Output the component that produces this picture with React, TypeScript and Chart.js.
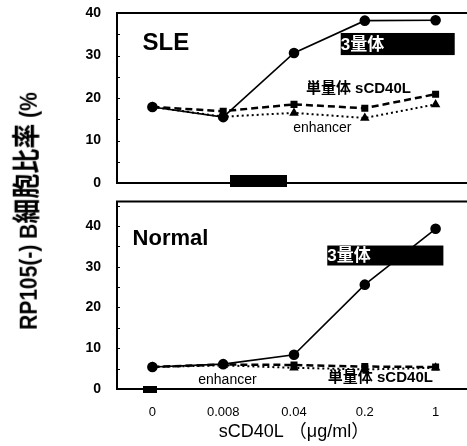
import React, { useEffect, useRef } from "react";
import { Chart, registerables } from "chart.js";
Chart.register(...registerables);

// ---- data ----
const categories = ["0", "0.008", "0.04", "0.2", "1"];
const sleTrimer = [17.9, 15.5, 30.6, 38.2, 38.3];
const sleMonomer = [17.9, 16.9, 18.5, 17.6, 20.9];
const sleEnhancer = [17.9, 15.6, 16.5, 15.3, 18.5];
const normalTrimer = [5.4, 6.1, 8.4, 25.6, 39.3];
const normalMonomer = [5.4, 6.0, 5.9, 5.5, 5.4];
const normalEnhancer = [5.4, 5.8, 5.2, 4.8, 5.2];
const yTickValues = [0, 10, 20, 30, 40];
const seriesNames = ["3量体", "単量体 sCD40L", "enhancer"];
const yTitleLatin = "RP105(-) B";
const yTitleCJK = "細胞比率";
const yTitleTail = " (%";
const xTitle = "sCD40L （μg/ml）";

const FONT = '"Liberation Sans", Arial, "Noto Sans CJK JP", sans-serif';

type Annot =
  | { kind: "text"; text: string; xi: number; y: number; align: CanvasTextAlign; size: number; weight: string }
  | { kind: "box"; text: string; x0: number; x1: number; y0: number; y1: number; size: number };

const sleAnnots: Annot[] = [
  { kind: "text", text: "SLE", xi: -0.14, y: 32.9, align: "left", size: 24, weight: "bold" },
  { kind: "box", text: seriesNames[0], x0: 2.66, x1: 4.27, y0: 30.1, y1: 35.3, size: 17 },
  { kind: "text", text: seriesNames[1], xi: 2.91, y: 22.1, align: "center", size: 15, weight: "bold" },
  { kind: "text", text: seriesNames[2], xi: 2.4, y: 12.9, align: "center", size: 14, weight: "normal" },
];
const normalAnnots: Annot[] = [
  { kind: "text", text: "Normal", xi: -0.28, y: 36.9, align: "left", size: 22, weight: "bold" },
  { kind: "box", text: seriesNames[0], x0: 2.47, x1: 4.11, y0: 30.3, y1: 35.2, size: 17 },
  { kind: "text", text: seriesNames[2], xi: 1.06, y: 2.2, align: "center", size: 14, weight: "normal" },
  { kind: "text", text: seriesNames[1], xi: 3.22, y: 2.7, align: "center", size: 15, weight: "bold" },
];

function makeOverlay(annots: Annot[]) {
  return {
    id: "overlay",
    beforeDatasetsDraw(chart: any) {
      const { ctx, chartArea } = chart;
      const ys = chart.scales.y;
      ctx.save();
      ctx.strokeStyle = "#000";
      ctx.lineWidth = 2;
      ctx.strokeRect(chartArea.left, chartArea.top, chartArea.right - chartArea.left, chartArea.bottom - chartArea.top);
      ctx.lineWidth = 1;
      for (let v = 5; v < ys.max; v += 5) {
        const py = Math.round(ys.getPixelForValue(v)) + 0.5;
        ctx.beginPath();
        ctx.moveTo(chartArea.left, py);
        ctx.lineTo(chartArea.left + 3, py);
        ctx.stroke();
      }
      ctx.restore();
    },
    afterDatasetsDraw(chart: any) {
      const { ctx } = chart;
      const xs = chart.scales.x;
      const ys = chart.scales.y;
      ctx.save();
      for (const a of annots) {
        if (a.kind === "box") {
          const l = xs.getPixelForValue(a.x0);
          const r = xs.getPixelForValue(a.x1);
          const t = ys.getPixelForValue(a.y1);
          const b = ys.getPixelForValue(a.y0);
          ctx.fillStyle = "#000";
          ctx.fillRect(l, t, r - l, b - t);
          ctx.fillStyle = "#fff";
          ctx.font = `bold ${a.size}px ${FONT}`;
          ctx.textAlign = "left";
          ctx.textBaseline = "middle";
          ctx.fillText(a.text, l, (t + b) / 2 + 1);
        } else {
          ctx.fillStyle = "#000";
          ctx.font = `${a.weight} ${a.size}px ${FONT}`;
          ctx.textAlign = a.align;
          ctx.textBaseline = "middle";
          ctx.fillText(a.text, xs.getPixelForValue(a.xi), ys.getPixelForValue(a.y));
        }
      }
      ctx.restore();
    },
  };
}

function datasets(tri: number[], mono: number[], enh: number[]) {
  return [
    {
      label: seriesNames[2],
      data: enh,
      borderColor: "#000",
      backgroundColor: "#000",
      borderWidth: 2,
      borderDash: [2, 3],
      pointStyle: "triangle",
      pointRadius: 3.5,
      tension: 0,
    },
    {
      label: seriesNames[1],
      data: mono,
      borderColor: "#000",
      backgroundColor: "#000",
      borderWidth: 2.5,
      borderDash: [7, 4],
      pointStyle: "rect",
      pointRadius: 3.2,
      tension: 0,
    },
    {
      label: seriesNames[0],
      data: tri,
      borderColor: "#000",
      backgroundColor: "#000",
      borderWidth: 1.6,
      pointStyle: "circle",
      pointRadius: 4.5,
      tension: 0,
    },
  ];
}

type PanelProps = {
  top: number;
  height: number;
  tri: number[];
  mono: number[];
  enh: number[];
  yMax: number;
  padTop: number;
  padBottom: number;
  showX: boolean;
  annots: Annot[];
};

function Panel(p: PanelProps) {
  const ref = useRef<HTMLCanvasElement>(null);
  useEffect(() => {
    if (!ref.current) return;
    const chart = new Chart(ref.current, {
      type: "line",
      data: { labels: categories, datasets: datasets(p.tri, p.mono, p.enh) as any },
      options: {
        animation: false,
        responsive: false,
        maintainAspectRatio: false,
        devicePixelRatio: 1,
        layout: { padding: { left: 0, right: 9, top: p.padTop, bottom: p.padBottom } },
        plugins: { legend: { display: false }, tooltip: { enabled: false } },
        scales: {
          x: {
            type: "category",
            offset: true,
            display: p.showX,
            grid: { display: false, drawTicks: false },
            border: { display: false },
            ticks: { font: { family: FONT, size: 13 }, color: "#000", padding: 16, maxRotation: 0 },
            title: {
              display: p.showX,
              text: xTitle,
              font: { family: FONT, size: 18 },
              color: "#000",
              padding: { top: 2, bottom: 0 },
            },
            afterFit: (s: any) => {
              if (p.showX) s.height = 54;
              s.paddingLeft = 0;
              s.paddingRight = 0;
            },
          },
          y: {
            min: 0,
            max: p.yMax,
            afterBuildTicks: (s: any) => {
              s.ticks = yTickValues.map((v) => ({ value: v }));
            },
            grid: { display: false, drawTicks: false },
            border: { display: false },
            ticks: { font: { family: FONT, size: 14, weight: "bold" }, color: "#000", padding: 16 },
            afterFit: (s: any) => {
              s.width = 117;
              s.paddingTop = 0;
              s.paddingBottom = 0;
            },
          },
        },
      } as any,
      plugins: [makeOverlay(p.annots)],
    });
    return () => chart.destroy();
  }, []);
  return (
    <canvas
      ref={ref}
      width={480}
      height={p.height}
      style={{ position: "absolute", left: 0, top: p.top, width: 480, height: p.height }}
    />
  );
}

export default function App() {
  return (
    <div
      style={{
        position: "absolute",
        left: 0,
        top: 0,
        width: 467,
        height: 446,
        overflow: "hidden",
        background: "#fff",
      }}
    >
      <Panel top={0} height={200} tri={sleTrimer} mono={sleMonomer} enh={sleEnhancer} yMax={40} padTop={13} padBottom={17} showX={false} annots={sleAnnots} />
      <Panel top={195} height={251} tri={normalTrimer} mono={normalMonomer} enh={normalEnhancer} yMax={46} padTop={6} padBottom={3} showX={true} annots={normalAnnots} />
      <div style={{ position: "absolute", left: 230, top: 175, width: 57, height: 12, background: "#000" }} />
      <div style={{ position: "absolute", left: 143, top: 386, width: 14, height: 7, background: "#000" }} />
      <div
        style={{
          position: "absolute",
          left: 28,
          top: 211,
          transform: "translate(-50%, -50%) rotate(-90deg) scaleY(1.15)",
          whiteSpace: "nowrap",
          fontFamily: FONT,
          fontSize: 21,
          fontWeight: "bold",
          color: "#000",
          lineHeight: "26px",
        }}
      >
        <span>{yTitleLatin}</span>
        <span style={{ fontSize: 25 }}>{yTitleCJK}</span>
        <span>{yTitleTail}</span>
      </div>
    </div>
  );
}
